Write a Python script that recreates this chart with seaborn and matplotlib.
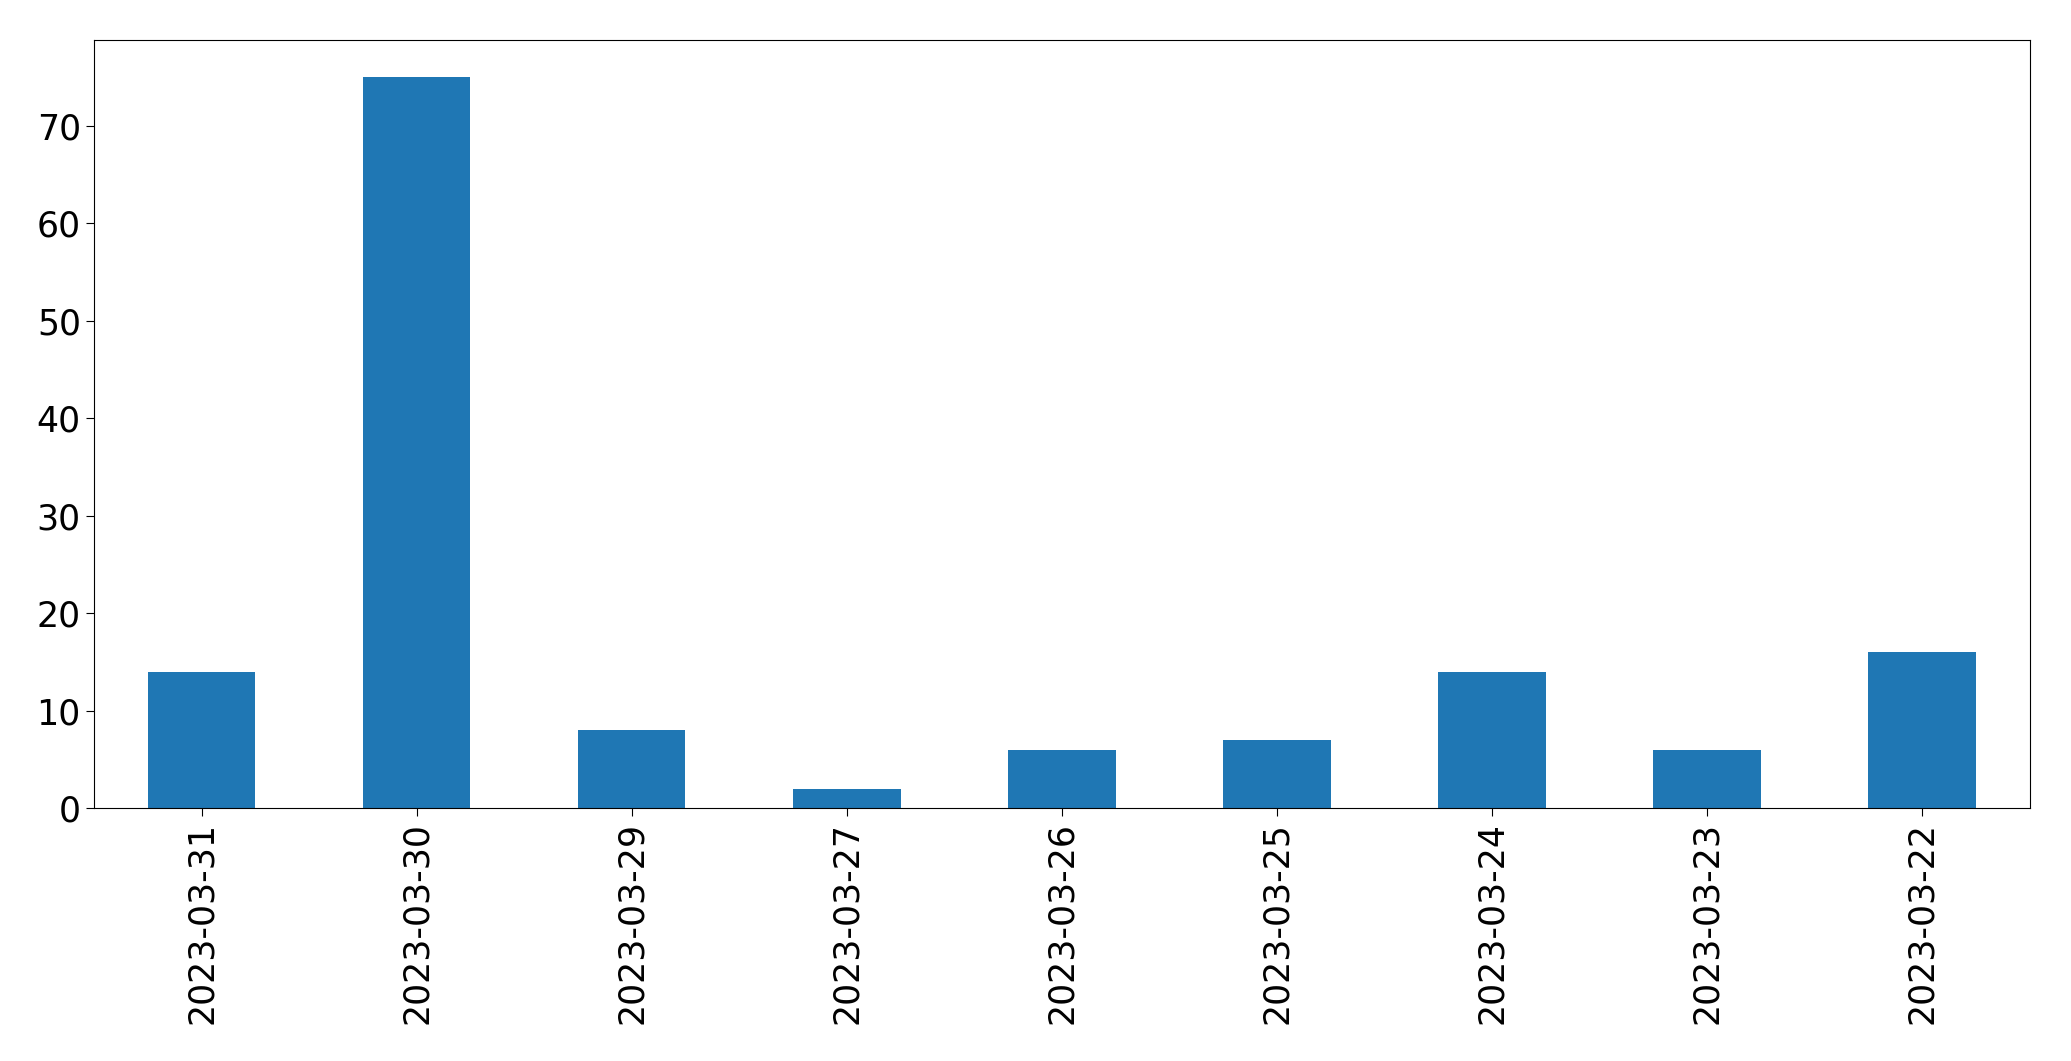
import numpy as np
import pandas as pd
import matplotlib
matplotlib.use("Agg")
import matplotlib.pyplot as plt
import seaborn as sns

dates = ["2023-03-31", "2023-03-30", "2023-03-29", "2023-03-27", "2023-03-26",
         "2023-03-25", "2023-03-24", "2023-03-23", "2023-03-22"]
counts = [14, 75, 8, 2, 6, 7, 14, 6, 16]

df = pd.DataFrame({"date": dates, "count": counts})

plt.rcParams["font.family"] = ["DejaVu Sans"]
fig, ax = plt.subplots(figsize=(20.71, 10.61), dpi=100)
fig.subplots_adjust(left=0.0454, right=0.980, top=0.962, bottom=0.238)

sns.barplot(data=df, x="date", y="count", color="#1f77b4", saturation=1,
            width=0.5, ax=ax)
ax.set_xlim(-0.5, len(dates) - 0.5)
ax.set_ylim(0, max(counts) * 1.05)
ax.set_xlabel("")
ax.set_ylabel("")
ax.tick_params(axis="both", labelsize=25, length=6)
ax.tick_params(axis="x", labelrotation=90)

fig.savefig("out.png", dpi=100)
